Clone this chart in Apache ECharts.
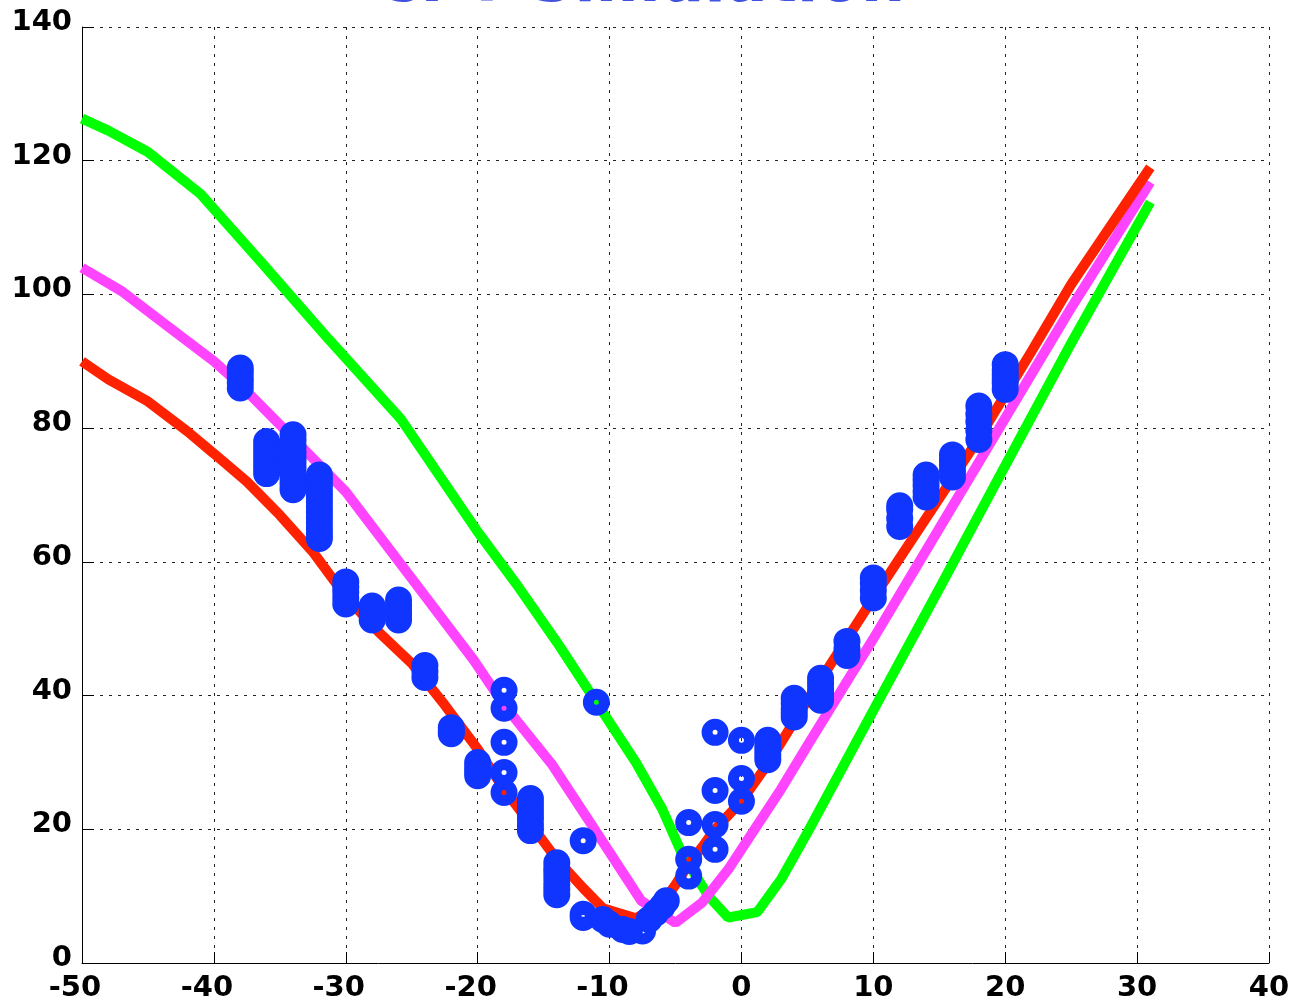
<!DOCTYPE html>
<html>
<head>
<meta charset="utf-8">
<script src="https://cdn.jsdelivr.net/npm/echarts@6/dist/echarts.min.js"></script>
<style>
html,body{margin:0;padding:0;background:#fff;}
#c{width:1294px;height:1005px;}
</style>
</head>
<body>
<div id="c"></div>
<script>
var titleText = 'CPT Simulation';
var xTicks = [-50, -40, -30, -20, -10, 0, 10, 20, 30, 40];
var yTicks = [0, 20, 40, 60, 80, 100, 120, 140];

var redX = [-50,-48,-45,-42,-40,-37.5,-35,-32.5,-30,-27.5,-25,-22.5,-20,-18,-16,-14,-12,-10.5,-8,-6,-5,-4,-3,-2,0,2,5,10,15,18,20,22,25,31];
var redY = [90,87.3,84,79.5,76.2,72,67,61.5,54.8,49.5,44.8,38.6,32,26,20.8,15.5,11.2,8.2,6.7,9,11.7,14.8,17.3,20,24.2,29.8,39.3,54.6,69.5,78.5,85,91.5,101.5,119];

var magX = [-50,-47,-44,-40,-38,-35,-30,-25,-20.3,-18,-14.4,-11.4,-7.6,-5,-3,-1,1,3,5,10,15,20,25,31];
var magY = [104,100.5,96,90,86.5,80.5,70.5,57.5,45.3,38.6,29.8,20.8,9.3,6,9,14,20,26,32.5,48.5,65,81.5,98,116.8];

var grnX = [-50,-48,-45,-41,-36.4,-31.3,-25.8,-20,-17,-14,-11,-8,-6,-4.5,-2.5,-1,1.2,3,5,10,15,20,25,31];
var grnY = [126.3,124.5,121.3,115,104.8,93.3,81.3,64.5,56.5,48,39,30,23,16.3,10,6.8,7.6,12.5,19.5,37.8,56,74.4,92.7,113.8];

var obsX = [-38,-38,-38,-38,-38,
            -36,-36,-36,-36,-36,-36,-36,
            -34,-34,-34,-34,-34,-34,-34,-34,-34,-34,-34,
            -32,-32,-32,-32,-32,-32,-32,-32,-32,-32,-32,-32,-32,
            -30,-30,-30,-30,-30,
            -28,-28,-28,-28,
            -26,-26,-26,-26,-26,
            -24,-24,-24,
            -22,-22,-22,
            -20,-20,-20,-20,
            -18,-18,-18,-18,-18,
            -16,-16,-16,-16,-16,-16,-16,
            -14,-14,-14,-14,-14,-14,-14,
            -12, -11,
            -12,-12,-10.5,-10,-9,-8.5,-7.5,-7,-6.5,-6,-5.7,
            -4,-4,-4,
            -2,-2,-2,-2,
            0,0,0,
            2,2,2,2,2,
            4,4,4,4,4,
            6,6,6,6,6,
            8,8,8,
            10,10,10,10,
            12,12,12,12,
            14,14,14,14,14,
            16,16,16,16,16,
            18,18,18,18,18,
            20,20,20,20,20,20];
var obsY = [89,88.3,87.5,86.8,86,
            78,77.2,76.4,75.6,74.8,74,73.2,
            79,78.2,77.3,76.4,75.5,74.8,74,73.2,72.4,71.6,70.8,
            73,72.2,71.4,70.6,69.8,69,68.2,67.4,66.6,65.8,65,64.2,63.5,
            57,56.2,55.5,54.6,53.7,
            53.4,52.7,52,51.3,
            54.3,53.5,52.7,52,51.3,
            44.5,43.6,42.7,
            35.2,34.7,34.3,
            30,29.3,28.6,28,
            40.8,38.1,33,28.5,25.5,
            24.6,23.8,23,22.2,21.5,20.6,19.8,
            15,14.2,13.5,12.7,11.8,11,10.2,
            18.3, 39,
            7.3,6.8,6.5,5.8,5,4.7,4.8,6.5,7.5,8.5,9.3,
            21,15.5,13,
            34.5,25.8,20.7,17,
            33.3,27.6,24.2,
            33.3,32.5,31.8,31.1,30.4,
            39.6,38.8,38,37.4,36.8,
            42.6,41.8,41,40.2,39.3,
            48.1,47,46,
            57.6,56.8,55.7,54.6,
            68.4,67.8,66.5,65.3,
            73,72.2,71.4,70.5,69.7,
            76,75.2,74.4,73.5,72.7,
            83.3,82.1,81,79.6,78.3,
            89.5,88.7,88,87.3,86.7,85.8];

function zip(a, b) { return a.map(function (v, i) { return [v, b[i]]; }); }

var labelFont = {fontFamily: 'DejaVu Sans', fontWeight: 'bold', fontSize: 29, color: '#000'};

var chart = echarts.init(document.getElementById('c'), null, {renderer: 'canvas'});
function lineSeries(x, y, color) {
  return {type: 'line', data: zip(x, y), showSymbol: false, symbol: 'none', z: 2,
    lineStyle: {color: color, width: 10}, silent: true, animation: false};
}
chart.setOption({
  animation: false,
  backgroundColor: '#fff',
  graphic: [{
    type: 'text', z: 100,
    x: 640, y: -15,
    style: {text: titleText, font: 'bold 62px "DejaVu Sans"', fill: '#4252e0', align: 'center', verticalAlign: 'middle'}
  }],
  grid: {left: 82, right: 25, top: 27, bottom: 42, containLabel: false},
  xAxis: {
    type: 'value', min: -50, max: 40, interval: 10,
    axisLine: {show: true, onZero: false, lineStyle: {color: '#000', width: 1}},
    axisTick: {show: true, inside: true, length: 11, lineStyle: {color: '#000'}},
    splitLine: {show: true, lineStyle: {color: '#222', width: 1, type: [3, 6]}},
    axisLabel: Object.assign({}, labelFont, {
      margin: 11,
      formatter: function (v) { return v < 0 ? '{n|' + v + '}' : '{p|' + v + '}'; },
      rich: {
        n: {fontFamily: 'DejaVu Sans', fontWeight: 'bold', fontSize: 29, color: '#000', padding: [0, 14, 0, 0]},
        p: {fontFamily: 'DejaVu Sans', fontWeight: 'bold', fontSize: 29, color: '#000'}
      }
    })
  },
  yAxis: {
    type: 'value', min: 0, max: 140, interval: 20,
    axisLine: {show: true, onZero: false, lineStyle: {color: '#000', width: 1}},
    axisTick: {show: true, inside: true, length: 12, lineStyle: {color: '#000'}},
    splitLine: {show: true, lineStyle: {color: '#222', width: 1, type: [3, 6]}},
    axisLabel: {
      margin: 10,
      formatter: function (v) { return '{a|' + v + '}'; },
      rich: {a: {fontFamily: 'DejaVu Sans', fontWeight: 'bold', fontSize: 29, color: '#000', padding: [0, 0, 9, 0]}}
    }
  },
  series: [
    lineSeries(grnX, grnY, '#00ff00'),
    lineSeries(magX, magY, '#ff44ff'),
    lineSeries(redX, redY, '#ff2200'),
    {
      type: 'scatter', data: zip(obsX, obsY), symbol: 'circle', symbolSize: 16, z: 5,
      itemStyle: {color: 'rgba(0,0,0,0)', borderColor: '#0f35ff', borderWidth: 11, opacity: 1},
      silent: true, animation: false
    }
  ]
});
</script>
</body>
</html>
